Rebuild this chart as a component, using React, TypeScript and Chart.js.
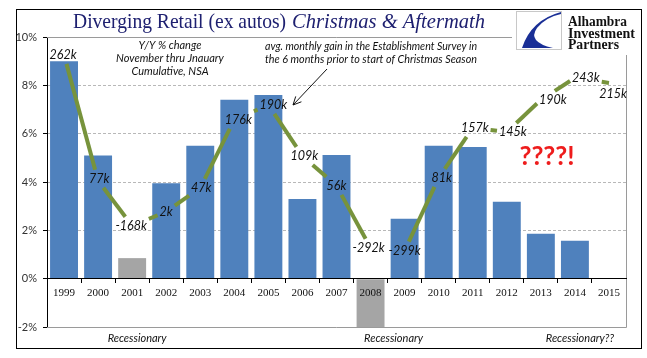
import React, { useEffect, useRef } from 'react';
import { Chart, registerables } from 'chart.js';

Chart.register(...registerables);

// ---- data ----
const years = ['1999', '2000', '2001', '2002', '2003', '2004', '2005', '2006', '2007', '2008', '2009', '2010', '2011', '2012', '2013', '2014', '2015'];
const retailYoY: (number | null)[] = [9.0, 5.1, 0.85, 3.95, 5.5, 7.4, 7.6, 3.3, 5.12, -2.0, 2.48, 5.5, 5.45, 3.18, 1.86, 1.57, null];
const recessionYears = ['2001', '2008'];
// avg. monthly payroll gain (thousands) in the 6 months prior to the Christmas season
const jobsGainK = [262, 77, -168, 2, 47, 176, 190, 109, 56, -292, -299, 81, 157, 145, 190, 243, 215];
// vertical level at which the green jobs line is drawn (in % axis units)
const jobsLineLevel = [9.26, 4.05, 2.19, 2.77, 3.76, 6.57, 7.19, 5.08, 3.84, 1.28, 1.16, 4.17, 6.24, 6.07, 7.4, 8.31, 8.1];
const yTicks = [-2, 0, 2, 4, 6, 8, 10];
const recessionNotes = [
  { year: '2001', text: 'Recessionary' },
  { year: '2008', text: 'Recessionary' },
  { year: '2014', text: 'Recessionary??' },
];
const titleMain = 'Diverging Retail (ex autos) ';
const titleItalic = 'Christmas & Aftermath';
const noteLeft = ['Y/Y % change', 'November thru Jnauary', 'Cumulative, NSA'];
const noteRight = ['avg. monthly gain in the Establishment Survey in', 'the 6 months prior to start of Christmas Season'];
const logoLines = ['Alhambra', 'Investment', 'Partners'];

// ---- styling ----
const BLUE = '#4F81BD';
const GREY = '#A5A5A5';
const GREEN = '#77933C';
const SANS = 'Lato, "Liberation Sans", sans-serif';
const SERIF = '"Liberation Serif", "DejaVu Serif", serif';
// small text nudges of the jobs labels relative to their line vertex (px)
const labelNudgeX = [-1, 1, -1, 0, 1, 4, 5, 2, 0, -2, 0, 3, 2, 6, 12, 11, 4];
const labelNudgeY = [0, -2, 0, 0, 0, 0, 0, 0, 0, 0, 0, 0, 0, 0, 0, 0, 11];

function insideRange(px: number, py: number, dx: number, dy: number, r: { l: number; r: number; t: number; b: number }) {
  let t0 = -Infinity, t1 = Infinity;
  const p = [-dx, dx, -dy, dy];
  const q = [px - r.l, r.r - px, py - r.t, r.b - py];
  for (let i = 0; i < 4; i++) {
    if (Math.abs(p[i]) < 1e-9) {
      if (q[i] < 0) return null;
    } else {
      const t = q[i] / p[i];
      if (p[i] < 0) t0 = Math.max(t0, t);
      else t1 = Math.min(t1, t);
    }
  }
  if (t0 > t1) return null;
  return [t0, t1];
}

const decor = {
  id: 'decor',
  beforeDraw(chart: any) {
    const { ctx, width, height } = chart;
    ctx.save();
    ctx.fillStyle = '#fff';
    ctx.fillRect(0, 0, width, height);
    ctx.restore();
  },
  beforeDatasetsDraw(chart: any) {
    const { ctx, chartArea: a } = chart;
    ctx.save();
    ctx.strokeStyle = '#9a9a9a';
    ctx.lineWidth = 1;
    ctx.beginPath();
    ctx.moveTo(a.left, Math.round(a.top) + 0.5);
    ctx.lineTo(Math.round(a.right) + 0.5, Math.round(a.top) + 0.5);
    ctx.lineTo(Math.round(a.right) + 0.5, Math.round(a.bottom) + 0.5);
    ctx.lineTo(a.left, Math.round(a.bottom) + 0.5);
    ctx.stroke();
    ctx.restore();
  },
  afterDatasetsDraw(chart: any) {
    const { ctx } = chart;
    const meta = chart.getDatasetMeta(1);
    const pts = meta.data.map((p: any) => ({ x: p.x, y: p.y }));
    ctx.save();
    ctx.font = 'italic 12.5px ' + SANS;
    const labels = jobsGainK.map((v) => v + 'k');
    const boxes = labels.map((t, i) => {
      const w = ctx.measureText(t).width;
      const cx = pts[i].x + labelNudgeX[i];
      const cy = pts[i].y + labelNudgeY[i];
      return { cx, cy, l: cx - w / 2 - 2, r: cx + w / 2 + 2, t: cy - 9, b: cy + 9 };
    });
    ctx.strokeStyle = GREEN;
    ctx.lineWidth = 4;
    ctx.lineCap = 'butt';
    for (let i = 0; i < pts.length - 1; i++) {
      const a = pts[i], b = pts[i + 1];
      const dx = b.x - a.x, dy = b.y - a.y;
      let s = 0, e = 1;
      const ra = insideRange(a.x, a.y, dx, dy, boxes[i]);
      if (ra && ra[0] <= 0 && ra[1] > 0) s = ra[1];
      const rb = insideRange(a.x, a.y, dx, dy, boxes[i + 1]);
      if (rb && rb[1] >= 1 && rb[0] < 1) e = rb[0];
      if (e - s > 0.02) {
        ctx.beginPath();
        ctx.moveTo(a.x + dx * s, a.y + dy * s);
        ctx.lineTo(a.x + dx * e, a.y + dy * e);
        ctx.stroke();
      }
    }
    ctx.fillStyle = '#111';
    ctx.textAlign = 'center';
    ctx.textBaseline = 'middle';
    labels.forEach((t, i) => ctx.fillText(t, boxes[i].cx, boxes[i].cy));
    ctx.restore();
  },
  afterDraw(chart: any) {
    const { ctx } = chart;
    const xs = chart.scales.x;
    ctx.save();
    // notes
    ctx.fillStyle = '#111';
    ctx.textAlign = 'center';
    ctx.textBaseline = 'middle';
    ctx.font = 'italic 11px ' + SANS;
    noteLeft.forEach((t, i) => ctx.fillText(t, 170, 45 + i * 13, 110));
    noteRight.forEach((t, i) => ctx.fillText(t, 371, 46 + i * 13, 212));
    // arrow
    ctx.strokeStyle = '#111';
    ctx.lineWidth = 1;
    const x0 = 327, y0 = 69, x1 = 293, y1 = 105;
    ctx.beginPath();
    ctx.moveTo(x0, y0);
    ctx.lineTo(x1, y1);
    const ang = Math.atan2(y1 - y0, x1 - x0);
    ctx.moveTo(x1 - 9 * Math.cos(ang - 0.45), y1 - 9 * Math.sin(ang - 0.45));
    ctx.lineTo(x1, y1);
    ctx.lineTo(x1 - 9 * Math.cos(ang + 0.45), y1 - 9 * Math.sin(ang + 0.45));
    ctx.stroke();
    // ????!
    ctx.fillStyle = '#EE1C1C';
    ctx.font = 'bold 26px ' + SANS;
    ctx.fillText('????!', 547, 157);
    // recession notes
    ctx.fillStyle = '#111';
    ctx.font = 'italic 11px ' + SANS;
    const noteDx = [5, 23, 5];
    recessionNotes.forEach((n, i) => {
      const x = xs.getPixelForValue(years.indexOf(n.year)) + noteDx[i];
      ctx.fillText(n.text, x, 338);
    });
    // title
    ctx.textAlign = 'left';
    ctx.textBaseline = 'alphabetic';
    ctx.fillStyle = '#1E2070';
    ctx.font = '21px ' + SERIF;
    ctx.fillText(titleMain, 73, 28, 218);
    ctx.font = 'italic 21px ' + SERIF;
    ctx.fillText(titleItalic, 292, 28, 193);
    // logo
    ctx.fillStyle = '#fff';
    ctx.fillRect(512, 11, 128, 44);
    ctx.strokeStyle = '#c8c8c8';
    ctx.strokeRect(516.5, 11.5, 45, 38);
    ctx.fillStyle = '#1a2f96';
    ctx.beginPath();
    ctx.moveTo(561, 12);
    ctx.quadraticCurveTo(531, 20, 522, 48);
    ctx.lineTo(553, 48);
    ctx.quadraticCurveTo(527, 42, 537, 28);
    ctx.quadraticCurveTo(546, 17, 561, 14);
    ctx.closePath();
    ctx.fill();
    ctx.fillStyle = '#111';
    ctx.font = 'bold 15px ' + SERIF;
    const logoW = [59, 67, 51];
    logoLines.forEach((t, i) => ctx.fillText(t, 568, 26 + i * 11.5, logoW[i]));
    // outer border
    ctx.strokeStyle = '#000';
    ctx.lineWidth = 1;
    ctx.strokeRect(16.5, 9.5, 625, 339);
    ctx.restore();
  },
};

export default function App() {
  const ref = useRef<HTMLCanvasElement>(null);
  useEffect(() => {
    let chart: Chart | null = null;
    let cancelled = false;
    const make = () => {
      if (cancelled || !ref.current) return;
      chart = new Chart(ref.current, {
        type: 'bar',
        data: {
          labels: years,
          datasets: [
            {
              type: 'bar',
              data: retailYoY as any,
              backgroundColor: years.map((y) => (recessionYears.includes(y) ? GREY : BLUE)),
              borderWidth: 0,
              barPercentage: 0.82,
              categoryPercentage: 1,
            },
            {
              type: 'line',
              data: jobsLineLevel,
              showLine: false,
              pointRadius: 0,
              borderColor: GREEN,
            } as any,
          ],
        },
        options: {
          responsive: false,
          animation: false,
          devicePixelRatio: 1,
          layout: { padding: { left: 0, right: 21, top: 37, bottom: 31 } },
          plugins: { legend: { display: false }, tooltip: { enabled: false }, title: { display: false } },
          scales: {
            x: {
              position: { y: 0 } as any,
              offset: true,
              grid: { display: true, drawOnChartArea: false, drawTicks: true, tickLength: 4, tickColor: '#000', offset: true },
              border: { display: true, color: '#000', width: 1, z: 1 },
              ticks: { font: { family: SERIF, size: 11 }, color: '#111', padding: 4, maxRotation: 0, autoSkip: false, z: 1 },
            },
            y: {
              min: -2,
              max: 10,
              afterFit: (s: any) => { s.width = 47; },
              afterBuildTicks: (s: any) => { s.ticks = yTicks.map((v) => ({ value: v })); },
              ticks: { callback: (v: any) => v + '%', font: { family: SANS, size: 11 }, color: '#333', padding: 6 },
              grid: {
                color: (c: any) => (c.tick && [2, 4, 6, 8].includes(c.tick.value) ? '#b8b8b8' : 'rgba(0,0,0,0)'),
                tickColor: '#000',
                tickLength: 4,
                drawTicks: true,
                lineWidth: 1,
              },
              border: { display: true, color: '#000', width: 1, dash: [3, 2] },
            },
          },
        },
        plugins: [decor],
      } as any);
    };
    const fonts = ['11px Lato', 'italic 11px Lato', 'bold 26px Lato', '21px "Liberation Serif"', 'italic 21px "Liberation Serif"', 'bold 15px "Liberation Serif"'];
    Promise.all(fonts.map((f) => (document as any).fonts.load(f).catch(() => null))).then(make, make);
    return () => {
      cancelled = true;
      if (chart) chart.destroy();
    };
  }, []);
  return (
    <div style={{ position: 'fixed', left: 0, top: 0, width: 647, height: 358 }}>
      <canvas ref={ref} width={647} height={358} style={{ display: 'block', width: 647, height: 358 }} />
    </div>
  );
}
